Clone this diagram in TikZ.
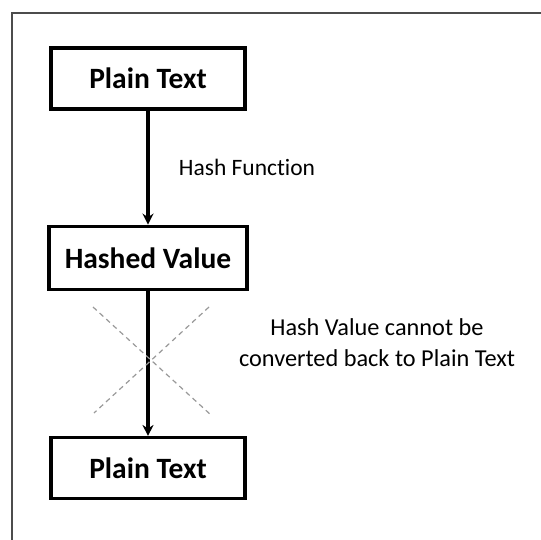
\documentclass[tikz,border=0pt]{standalone}
\usepackage{fontspec}
\setmainfont{Carlito}[Ligatures={NoCommon,NoRare}]
\usepackage{tikz}
\usetikzlibrary{arrows.meta, positioning}
\tikzstyle{textbox} = [draw, rectangle, minimum width=194pt, minimum height=61pt, align=center, line width=3.3pt, font=\bfseries\fontsize{29.5}{34}\selectfont]
\tikzstyle{arrow} = [line width=3.2pt, -{Stealth[length=11pt,width=11pt]}]
\tikzstyle{cross} = [dashed, gray!80, line width=1.2pt, dash pattern=on 5pt off 4pt]
\tikzstyle{frame} = [line width=1.4pt, black!70]

\begin{document}
\begin{tikzpicture}[x=1pt, y=-1pt]
    \useasboundingbox (0,0) rectangle (540,540);
    \draw [frame] (12,541) -- (12,13) -- (541,13);
    \node (plain) [textbox] at (148,78.5) {Plain Text};
    \node (hashed) [textbox, below=114pt of plain, minimum width=198pt, minimum height=63pt] {Hashed Value};
    \node (back) [textbox, below=145pt of hashed] {Plain Text};
    \draw [arrow] (plain) -- node [right=26pt, font=\fontsize{23.5}{28}\selectfont, pos=0.5] {Hash Function} (hashed);
    \draw [arrow] (hashed) -- (back);
    % crossed out step
    \coordinate (c1) at (93,307);
    \coordinate (c2) at (211,415);
    \coordinate (c3) at (209,307);
    \coordinate (c4) at (94,413);
    \draw [cross] (c1) -- (c2);
    \draw [cross] (c3) -- (c4);
    \node (note) [align=center, font=\fontsize{24.3}{31}\selectfont] at (377,343) {Hash Value cannot be\\converted back to Plain Text};
\end{tikzpicture}
\end{document}
